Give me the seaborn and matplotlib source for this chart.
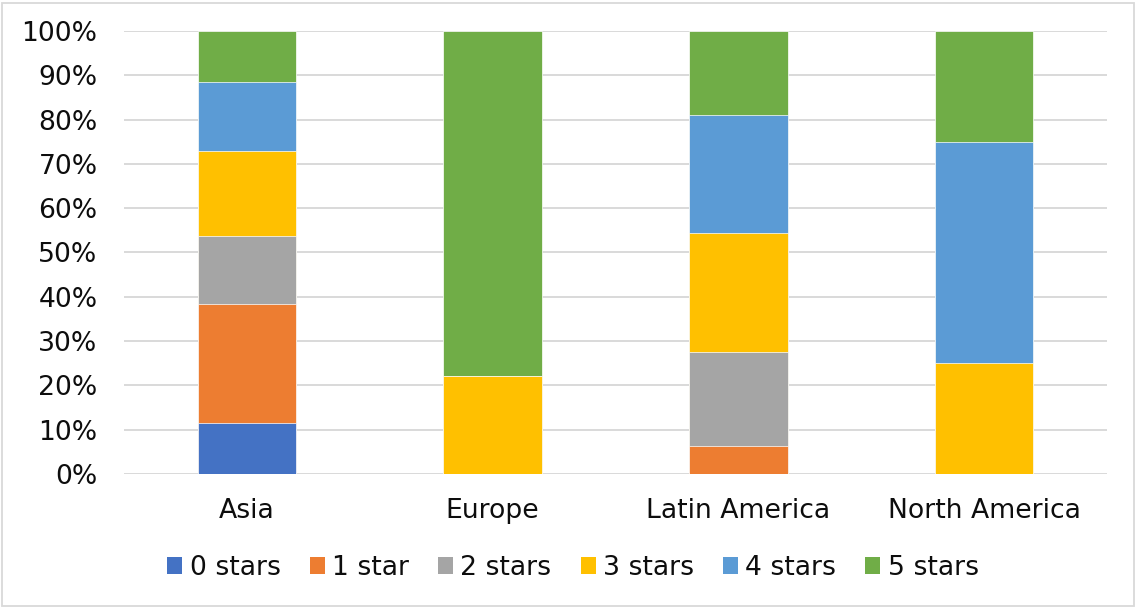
import matplotlib
matplotlib.use("Agg")
import matplotlib.pyplot as plt
from matplotlib.patches import Patch, Rectangle
from matplotlib.ticker import PercentFormatter, MultipleLocator
import numpy as np
import pandas as pd
import seaborn as sns

# Share of hotels by star rating in each region (percent)
regions = ["Asia", "Europe", "Latin America", "North America"]
ratings = ["0 stars", "1 star", "2 stars", "3 stars", "4 stars", "5 stars"]
stars_0 = [11.5, 0.0, 0.0, 0.0]
stars_1 = [26.9, 0.0, 6.4, 0.0]
stars_2 = [15.4, 0.0, 21.2, 0.0]
stars_3 = [19.2, 22.2, 26.9, 25.0]
stars_4 = [15.4, 0.0, 26.5, 50.0]
stars_5 = [11.6, 77.8, 19.0, 25.0]
colors = ["#4472C4", "#ED7D31", "#A5A5A5", "#FFC000", "#5B9BD5", "#70AD47"]

sns.set_theme(style="white")
plt.rcParams["font.family"] = ["DejaVu Sans"]
FS = 19.2

shares = pd.DataFrame(
    [stars_0, stars_1, stars_2, stars_3, stars_4, stars_5],
    index=ratings, columns=regions,
)
# Normalise to 100 % stacks and accumulate from the bottom segment upward
shares = shares / shares.sum(axis=0) * 100.0
cumulative = shares.cumsum(axis=0)

fig = plt.figure(figsize=(11.36, 6.08), dpi=100)
ax = fig.add_axes([124 / 1136, 1 - 474 / 608, (1107 - 124) / 1136, (474 - 31) / 608])

# Draw the tallest cumulative layer first, then overlay the lower ones
for rating, color in reversed(list(zip(ratings, colors))):
    layer = pd.DataFrame({"region": regions, "value": cumulative.loc[rating].values / 100.0})
    sns.barplot(
        data=layer, x="region", y="value", order=regions,
        color=color, saturation=1, width=0.4,
        edgecolor="white", linewidth=0.5, ax=ax, zorder=3,
    )

ax.set_xlim(-0.5, 3.5)
ax.set_ylim(0, 1)
ax.yaxis.set_major_locator(MultipleLocator(0.1))
ax.yaxis.set_major_formatter(PercentFormatter(xmax=1, decimals=0))
ax.grid(axis="y", color="#D9D9D9", linewidth=1.4, zorder=0)
ax.grid(axis="x", visible=False)
for side in ["top", "right", "left", "bottom"]:
    ax.spines[side].set_visible(False)
ax.set_xlabel("")
ax.set_ylabel("")
ax.tick_params(axis="y", length=0, pad=19, labelsize=FS, labelcolor="#0d0d0d")
ax.tick_params(axis="x", length=0, pad=17, labelsize=FS, labelcolor="#0d0d0d")

handles = [Patch(facecolor=c, edgecolor="none", label=r) for r, c in zip(ratings, colors)]
fig.legend(
    handles=handles, loc="center", bbox_to_anchor=(573 / 1136, 1 - 568 / 608),
    ncol=6, frameon=False, fontsize=FS, handlelength=0.56, handleheight=0.56,
    handletextpad=0.27, columnspacing=1.1, labelcolor="#0d0d0d",
)

# Thin frame around the whole chart
fig.patches.append(Rectangle((2 / 1136, 2 / 608), 1132 / 1136, 603 / 608,
                             transform=fig.transFigure, fill=False,
                             edgecolor="#D9D9D9", linewidth=1.3))

fig.savefig("out.png", dpi=100)
